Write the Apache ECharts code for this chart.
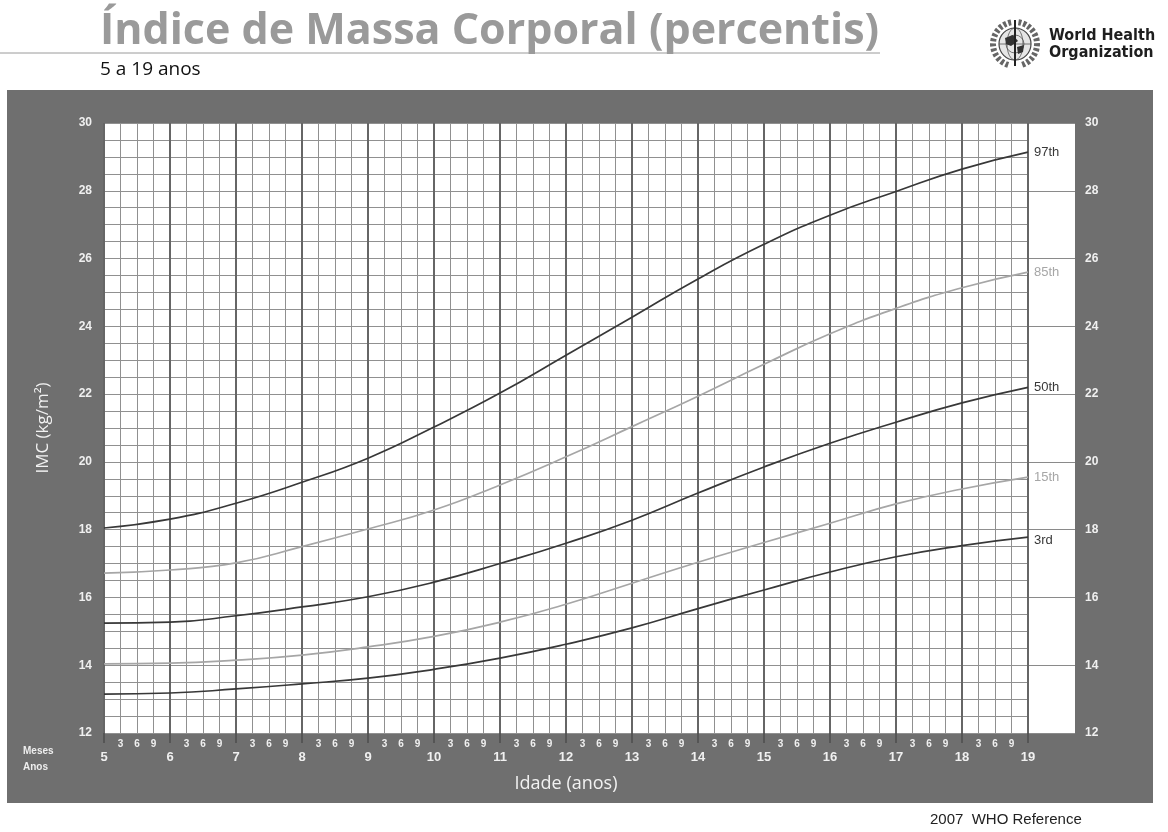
<!DOCTYPE html>
<html>
<head>
<meta charset="utf-8">
<title>Índice de Massa Corporal (percentis)</title>
<script src="https://cdn.jsdelivr.net/npm/echarts@6/dist/echarts.min.js"></script>
<style>
  html, body { margin: 0; padding: 0; background: #fff; }
  #chart { width: 1168px; height: 832px; }
</style>
</head>
<body>
<div id="chart"></div>
<script>
// idade (anos) e percentis de IMC
var ages = [5, 6, 7, 8, 9, 10, 11, 12, 13, 14, 15, 16, 17, 18, 19];
var yearLabels = ['5', '6', '7', '8', '9', '10', '11', '12', '13', '14', '15', '16', '17', '18', '19'];
var monthLabels = ['', '3', '6', '9'];

var p97 = [18.05, 18.31, 18.78, 19.4, 20.11, 21.03, 22.03, 23.15, 24.27, 25.4, 26.42, 27.28, 27.98, 28.64, 29.14];
var p85 = [16.72, 16.81, 17.02, 17.5, 18.02, 18.58, 19.32, 20.15, 21.04, 21.94, 22.88, 23.78, 24.53, 25.14, 25.6];
var p50 = [15.24, 15.27, 15.46, 15.72, 16.02, 16.45, 17.0, 17.6, 18.28, 19.08, 19.85, 20.55, 21.17, 21.74, 22.2];
var p15 = [14.04, 14.06, 14.15, 14.3, 14.54, 14.85, 15.27, 15.8, 16.42, 17.04, 17.62, 18.19, 18.76, 19.2, 19.55];
var p3 = [13.15, 13.18, 13.3, 13.45, 13.62, 13.88, 14.21, 14.62, 15.1, 15.67, 16.22, 16.75, 17.2, 17.53, 17.78];

var DARK = '#383838';
var LIGHT = '#a6a6a6';
var LABEL_FONT = '"Liberation Sans", Arial, sans-serif';

function pairs (vals) {
  return ages.map(function (a, i) { return [a, vals[i]]; });
}

function curve (name, vals, color, offsetY) {
  return {
    name: name,
    type: 'line',
    xAxisIndex: 0,
    yAxisIndex: 0,
    data: pairs(vals),
    smooth: true,
    showSymbol: false,
    silent: true,
    lineStyle: { color: color, width: 1.7 },
    endLabel: {
      show: true,
      formatter: '{a}',
      color: color,
      fontSize: 13,
      fontFamily: LABEL_FONT,
      distance: 6,
      offset: [0, offsetY || 0]
    }
  }
}

var chart = echarts.init(document.getElementById('chart'))

chart.setOption({
  backgroundColor: '#fff',
  animation: false,
  grid: [
    { left: 104, top: 123, width: 924, height: 610, show: true, backgroundColor: '#fff', borderWidth: 0 },
    { left: 1028, top: 123, width: 47, height: 610, show: true, backgroundColor: '#fff', borderWidth: 0 }
  ],
  xAxis: [
    { // linhas de 3 meses
      gridIndex: 0,
      type: 'value',
      min: 5,
      max: 19,
      interval: 0.25,
      position: 'bottom',
      axisLine: { show: false },
      axisTick: { show: false },
      splitLine: { lineStyle: { color: '#909090', width: 1 } },
      axisLabel: {
        margin: 6,
        fontSize: 10,
        fontWeight: 'bold',
        fontFamily: LABEL_FONT,
        color: '#f0f0f0',
        showMinLabel: false,
        showMaxLabel: false,
        formatter: function (v) {
          var q = Math.round((v - Math.floor(v)) * 4)
          return monthLabels[q % 4]
        }
      }
    },
    { // anos
      gridIndex: 0,
      type: 'value',
      min: 5,
      max: 19,
      interval: 1,
      position: 'bottom',
      axisLine: { show: false },
      axisTick: { show: true, length: 10, lineStyle: { color: '#555', width: 2 } },
      splitLine: { lineStyle: { color: '#666', width: 2 } },
      axisLabel: {
        margin: 18,
        fontSize: 13,
        fontWeight: 'bold',
        fontFamily: LABEL_FONT,
        color: '#f0f0f0',
        formatter: function (v) { return yearLabels[v - 5] }
      },
      name: 'Idade (anos)',
      nameLocation: 'middle',
      nameGap: 42,
      nameTextStyle: { color: '#f2f2f2', fontSize: 18, fontFamily: '"Open Sans", sans-serif' }
    },
    { gridIndex: 1, type: 'value', min: 0, max: 1, show: false }
  ],
  yAxis: [
    { // linhas de 0,5
      gridIndex: 0,
      type: 'value',
      min: 12,
      max: 30,
      interval: 0.5,
      position: 'left',
      axisLine: { show: false },
      axisTick: { show: false },
      axisLabel: { show: false },
      splitLine: { lineStyle: { color: '#909090', width: 1 } }
    },
    {
      gridIndex: 0,
      type: 'value',
      min: 12,
      max: 30,
      interval: 2,
      position: 'left',
      axisLine: { show: false },
      axisTick: { show: false },
      splitLine: { show: false },
      axisLabel: { margin: 12, fontSize: 12, fontWeight: 'bold', fontFamily: LABEL_FONT, color: '#f0f0f0' },
      name: 'IMC (kg/m²)',
      nameLocation: 'middle',
      nameGap: 52,
      nameTextStyle: { color: '#f2f2f2', fontSize: 17, fontFamily: '"Open Sans", sans-serif' }
    },
    {
      gridIndex: 1,
      type: 'value',
      min: 12,
      max: 30,
      interval: 2,
      position: 'right',
      axisLine: { show: false },
      axisTick: { show: false },
      splitLine: { lineStyle: { color: '#8a8a8a', width: 1 } },
      axisLabel: { margin: 10, fontSize: 12, fontWeight: 'bold', fontFamily: LABEL_FONT, color: '#f0f0f0' }
    }
  ],
  series: [
    curve('97th', p97, DARK),
    curve('85th', p85, LIGHT),
    curve('50th', p50, DARK),
    curve('15th', p15, LIGHT),
    curve('3rd', p3, DARK, 3)
  ],
  graphic: [
    { type: 'rect', z: -10, silent: true, shape: { x: 7, y: 90, width: 1146, height: 713 }, style: { fill: '#6f6f6f' } },
    { type: 'text', x: 100, y: 32, style: { text: 'Índice de Massa Corporal (percentis)', font: 'bold 43px "Open Sans", sans-serif', fill: '#9a9a9a', textVerticalAlign: 'middle', verticalAlign: 'middle' } },
    { type: 'line', shape: { x1: 0, y1: 53, x2: 880, y2: 53 }, style: { stroke: '#9a9a9a', lineWidth: 1 } },
    { type: 'text', x: 100, y: 70, style: { text: '5 a 19 anos', font: '19px "Open Sans", sans-serif', fill: '#111', textVerticalAlign: 'middle', verticalAlign: 'middle' } },
    // emblema OMS (simplificado)
    {
      type: 'group',
      x: 1015,
      y: 44,
      children: [
        { type: 'arc', shape: { cx: 0, cy: 0, r: 22, startAngle: Math.PI * 0.6, endAngle: Math.PI * 1.45 }, style: { stroke: '#666', lineWidth: 6, lineDash: [3, 2], fill: null } },
        { type: 'arc', shape: { cx: 0, cy: 0, r: 22, startAngle: -Math.PI * 0.45, endAngle: Math.PI * 0.4 }, style: { stroke: '#666', lineWidth: 6, lineDash: [3, 2], fill: null } },
        { type: 'circle', shape: { cx: 0, cy: 0, r: 16 }, style: { fill: '#e6e6e6', stroke: '#444', lineWidth: 1.2 } },
        { type: 'ellipse', shape: { cx: 0, cy: 0, rx: 8, ry: 16 }, style: { fill: null, stroke: '#555', lineWidth: 0.8 } },
        { type: 'line', shape: { x1: -16, y1: 0, x2: 16, y2: 0 }, style: { stroke: '#555', lineWidth: 0.8 } },
        { type: 'circle', shape: { cx: 0, cy: 0, r: 9 }, style: { fill: null, stroke: '#555', lineWidth: 0.8 } },
        { type: 'polygon', shape: { points: [[-10, -6], [-2, -9], [3, -3], [-4, 2], [-9, 0]] }, style: { fill: '#333' } },
        { type: 'polygon', shape: { points: [[2, 3], [9, 1], [8, 8], [3, 10]] }, style: { fill: '#333' } },
        { type: 'line', shape: { x1: 0, y1: -24, x2: 0, y2: 22 }, style: { stroke: '#222', lineWidth: 2 } }
      ]
    },
    { type: 'text', x: 1049, y: 36, style: { text: 'World Health', font: 'bold 16px "DejaVu Sans Condensed", "Liberation Sans Narrow", sans-serif', fill: '#1e1e1e', textVerticalAlign: 'middle', verticalAlign: 'middle' } },
    { type: 'text', x: 1049, y: 53, style: { text: 'Organization', font: 'bold 16px "DejaVu Sans Condensed", "Liberation Sans Narrow", sans-serif', fill: '#1e1e1e', textVerticalAlign: 'middle', verticalAlign: 'middle' } },
    { type: 'text', x: 23, y: 751, style: { text: 'Meses', font: 'bold 10px ' + LABEL_FONT, fill: '#eeeeee', textVerticalAlign: 'middle', verticalAlign: 'middle' } },
    { type: 'text', x: 23, y: 767, style: { text: 'Anos', font: 'bold 10px ' + LABEL_FONT, fill: '#eeeeee', textVerticalAlign: 'middle', verticalAlign: 'middle' } },
    { type: 'text', x: 930, y: 820, style: { text: '2007  WHO Reference', font: '15px ' + LABEL_FONT, fill: '#222', textVerticalAlign: 'middle', verticalAlign: 'middle' } }
  ]
})
</script>
</body>
</html>
